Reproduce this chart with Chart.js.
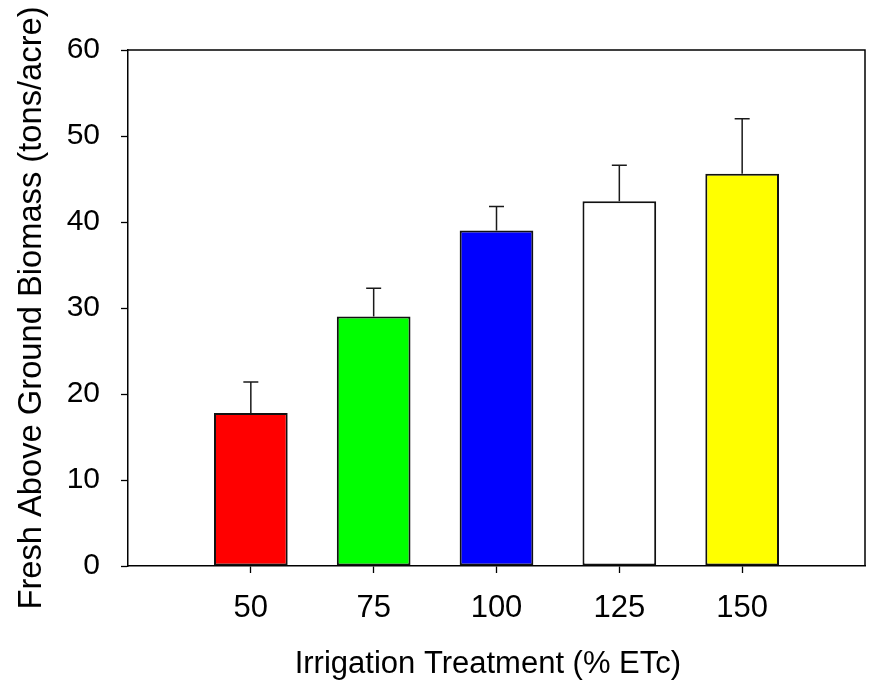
<!DOCTYPE html>
<html>
<head>
<meta charset="utf-8">
<script src="https://cdn.jsdelivr.net/npm/chart.js@4"></script>
<style>
  html, body { margin: 0; padding: 0; background: #fff; }
  #wrap { width: 871px; height: 683px; }
</style>
</head>
<body>
<div id="wrap"><canvas id="chart"></canvas></div>
<script>
// irrigation treatment (% ETc), mean fresh biomass and error bar length
const treatments = [50, 75, 100, 125, 150];
const biomass = [17.8, 29.0, 39.0, 42.4, 45.6];
const stdErr = [3.6, 3.3, 2.8, 4.2, 6.4];
const barColors = ['#ff0000', '#00ff00', '#0000ff', '#ffffff', '#ffff00'];

const FONT = "'Liberation Sans', Arial, sans-serif";

// caps + stems drawn from the bar top upward
const errorBars = {
  id: 'errorBars',
  afterDatasetsDraw(chart) {
    const { ctx, scales: { x, y } } = chart;
    ctx.save();
    ctx.strokeStyle = '#1a1a1a';
    ctx.lineWidth = 1.5;
    treatments.forEach((t, i) => {
      const px = x.getPixelForValue(t);
      const base = y.getPixelForValue(biomass[i]);
      const top = y.getPixelForValue(biomass[i] + stdErr[i]);
      ctx.beginPath();
      ctx.moveTo(px, base);
      ctx.lineTo(px, top);
      ctx.moveTo(px - 7.5, top);
      ctx.lineTo(px + 7.5, top);
      ctx.stroke();
    });
    ctx.restore();
  }
};

// top and right edges of the box
const frame = {
  id: 'frame',
  afterDraw(chart) {
    const { ctx, chartArea: a } = chart;
    ctx.save();
    ctx.strokeStyle = '#000';
    ctx.lineWidth = 1.5;
    ctx.beginPath();
    ctx.moveTo(a.left, a.top);
    ctx.lineTo(a.right, a.top);
    ctx.lineTo(a.right, a.bottom);
    ctx.stroke();
    ctx.restore();
  }
};

new Chart(document.getElementById('chart').getContext('2d'), {
  type: 'bar',
  data: {
    datasets: [{
      data: treatments.map((t, i) => ({ x: t, y: biomass[i] })),
      backgroundColor: barColors,
      borderColor: '#111',
      borderWidth: 2,
      borderSkipped: false,
      barPercentage: 0.6,
      categoryPercentage: 1.0
    }]
  },
  options: {
    responsive: true,
    maintainAspectRatio: false,
    animation: false,
    layout: { padding: { top: 50, right: 6, left: 0, bottom: 0 } },
    plugins: { legend: { display: false }, tooltip: { enabled: false } },
    scales: {
      x: {
        type: 'linear',
        min: 25,
        max: 175,
        offset: false,
        afterBuildTicks: (s) => { s.ticks = treatments.map(v => ({ value: v })); },
        afterFit: (s) => { s.height = 117; },
        grid: { drawOnChartArea: false, drawTicks: true, tickLength: 7, tickColor: '#000', tickWidth: 1.3, offset: false },
        border: { color: '#000', width: 1.5 },
        ticks: { color: '#000', font: { family: FONT, size: 31 }, padding: 17, maxRotation: 0 },
        // trailing no-break spaces nudge the centred title a little left, as in the original
        title: { display: true, text: 'Irrigation Treatment (% ETc)\u00a0\u00a0', color: '#000', font: { family: FONT, size: 31 }, padding: { top: 0, bottom: 0 } }
      },
      y: {
        min: 0,
        max: 60,
        afterFit: (s) => { s.width = 128; },
        grid: { drawOnChartArea: false, drawTicks: true, tickLength: 7, tickColor: '#000', tickWidth: 1.3 },
        border: { color: '#000', width: 1.5 },
        ticks: { stepSize: 10, color: '#000', font: { family: FONT, size: 30 }, padding: 21 },
        title: { display: true, text: 'Fresh Above Ground Biomass (tons/acre)', color: '#000', font: { family: FONT, size: 32.7 }, padding: { top: 12, bottom: 0 } }
      }
    }
  },
  plugins: [errorBars, frame]
});
</script>
</body>
</html>
